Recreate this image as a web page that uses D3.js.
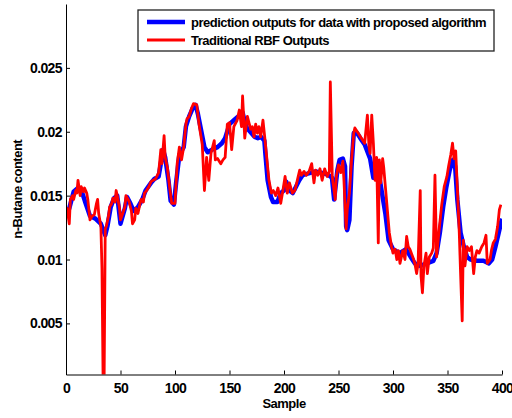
<!DOCTYPE html>
<html>
<head>
<meta charset="utf-8">
<script src="https://cdn.jsdelivr.net/npm/d3@7"></script>
<style>
  body { margin: 0; background: #fff; }
  svg { display: block; }
  text { font-family: "Liberation Sans", Arial, Helvetica, sans-serif; font-weight: bold; }
</style>
</head>
<body>
<svg id="chart"></svg>
<script>
// sample index / value pairs
var predSamples = [0,3,7,11,15,18,22,27,32,36,38,41,44,47,50,54,56,59,62,66,70,73,78,81,85,87,89,91,94,96,99,101,104,108,110,113,116,119,121,124,127,130,134,139,143,146,150,154,158,162,164,166,170,173,176,179,182,183,185,188,190,194,197,200,202,205,208,211,214,217,221,225,229,234,238,241,244,246,249,251,254,256,257,258,260,262,264,267,270,274,279,282,285,288,293,296,300,306,312,317,320,325,331,337,340,343,346,349,352,355,357,359,362,365,368,371,377,383,388,391,394,397,400];
var predValues = [0.0134,0.0140,0.0153,0.0156,0.0152,0.0144,0.0134,0.0132,0.0128,0.0119,0.0126,0.0141,0.0148,0.0150,0.0128,0.0140,0.0149,0.0144,0.0138,0.0141,0.0147,0.0154,0.0160,0.0163,0.0165,0.0175,0.0186,0.0180,0.0162,0.0146,0.0143,0.0160,0.0182,0.0188,0.0204,0.0212,0.0218,0.0221,0.0214,0.0201,0.0188,0.0184,0.0186,0.0188,0.0191,0.0195,0.0206,0.0209,0.0212,0.0215,0.0208,0.0203,0.0199,0.0196,0.0195,0.0196,0.0193,0.0182,0.0162,0.0149,0.0145,0.0145,0.0152,0.0154,0.0161,0.0154,0.0152,0.0157,0.0162,0.0166,0.0167,0.0168,0.0169,0.0168,0.0167,0.0166,0.0164,0.0147,0.0170,0.0178,0.0179,0.0173,0.0126,0.0123,0.0131,0.0173,0.0199,0.0199,0.0195,0.0190,0.0179,0.0164,0.0164,0.0162,0.0136,0.0115,0.0108,0.0105,0.0108,0.0101,0.0097,0.0095,0.0097,0.0099,0.0105,0.0121,0.0141,0.0157,0.0170,0.0178,0.0173,0.0147,0.0121,0.0110,0.0102,0.0100,0.0099,0.0099,0.0097,0.0100,0.0110,0.0121,0.0132];

var rbfSamples = [0,1,3,4,6,7,9,10,11,13,14,16,17,19,20,22,24,26,28,29,30,32,33,34,35,36,37,39,40,42,43,45,46,47,49,50,52,54,55,57,58,60,61,63,64,66,68,69,71,72,74,76,78,80,82,85,87,88,90,91,93,95,97,100,102,104,106,108,110,111,113,115,117,120,122,125,127,129,131,133,136,137,139,142,144,146,148,150,152,154,157,159,161,162,164,166.4,167.9,169.4,171,172.5,174,175.5,177,178.6,180.7,182.3,183.8,186.2,188.4,190.2,192.4,194.5,197,199,201,203,205,207.7,210,212.2,214.4,216,218.4,220.5,223,225.4,227.5,229,231,233,235,237.3,239.7,241.6,242.5,244.3,245,247,248,250,252,254,255,257,258,260,262,264,265,268,271,274,276.5,278,279,280.5,282,283.5,285,286.5,287.5,288.7,290.5,291.5,294,296.6,298.7,300,302,303.5,305,306.4,309,311,312.5,314,315.5,319,320,321.7,323,325,325.7,327,328.4,330.3,331.5,333.3,335.5,337,338.5,340,342.5,344.7,347,349.5,351,353,354.6,356,357.5,359,360.8,362,363.5,364.5,366,368,370,372,374,375.5,377,379,381.4,383.5,385.3,386.5,389,390.5,392,394,396,397.6,399];
var rbfValues = [0.0136,0.0140,0.0128,0.0147,0.0150,0.0147,0.0154,0.0152,0.0162,0.0150,0.0157,0.0153,0.0156,0.0152,0.0147,0.0131,0.0134,0.0135,0.0144,0.0147,0.0136,0.0126,0.0093,0.0008,0.0008,0.0124,0.0126,0.0134,0.0141,0.0144,0.0148,0.0145,0.0154,0.0150,0.0141,0.0131,0.0136,0.0141,0.0150,0.0147,0.0145,0.0138,0.0128,0.0131,0.0140,0.0136,0.0144,0.0147,0.0145,0.0152,0.0154,0.0157,0.0161,0.0162,0.0163,0.0168,0.0186,0.0175,0.0197,0.0180,0.0172,0.0157,0.0144,0.0144,0.0175,0.0188,0.0178,0.0188,0.0206,0.0210,0.0212,0.0218,0.0222,0.0221,0.0206,0.0190,0.0154,0.0180,0.0162,0.0183,0.0193,0.0178,0.0179,0.0175,0.0178,0.0180,0.0206,0.0207,0.0186,0.0204,0.0209,0.0217,0.0204,0.0228,0.0195,0.0212,0.0207,0.0202,0.0204,0.0196,0.0206,0.0199,0.0204,0.0196,0.0209,0.0196,0.0183,0.0162,0.0152,0.0154,0.0150,0.0156,0.0144,0.0154,0.0165,0.0152,0.0160,0.0152,0.0154,0.0162,0.0170,0.0166,0.0169,0.0166,0.0169,0.0175,0.0160,0.0170,0.0166,0.0171,0.0162,0.0171,0.0165,0.0169,0.0239,0.0165,0.0160,0.0147,0.0165,0.0174,0.0168,0.0177,0.0162,0.0124,0.0139,0.0152,0.0178,0.0199,0.0203,0.0199,0.0195,0.0191,0.0213,0.0188,0.0183,0.0213,0.0191,0.0162,0.0180,0.0113,0.0178,0.0160,0.0179,0.0172,0.0147,0.0121,0.0110,0.0105,0.0108,0.0100,0.0107,0.0097,0.0107,0.0100,0.0118,0.0110,0.0108,0.0100,0.0097,0.0089,0.0097,0.0154,0.0087,0.0074,0.0095,0.0105,0.0089,0.0102,0.0105,0.0109,0.0166,0.0102,0.0125,0.0143,0.0157,0.0165,0.0173,0.0182,0.0191,0.0179,0.0185,0.0157,0.0121,0.0089,0.0052,0.0115,0.0095,0.0110,0.0107,0.0110,0.0089,0.0102,0.0107,0.0105,0.0110,0.0113,0.0119,0.0097,0.0100,0.0108,0.0113,0.0116,0.0126,0.0139,0.0143];

var xTicks = [0, 50, 100, 150, 200, 250, 300, 350, 400];
var yTicks = [0.005, 0.01, 0.015, 0.02, 0.025];
var yTickLabels = ["0.005", "0.01", "0.015", "0.02", "0.025"];
var seriesNames = ["prediction outputs for data with proposed algorithm", "Traditional RBF Outputs"];

var width = 512, height = 418;
var plotLeft = 66, plotRight = 502, plotTop = 4, plotBottom = 374.5;

var svg = d3.select("#chart").attr("width", width).attr("height", height);

var x = d3.scaleLinear().domain([0, 400]).range([plotLeft, plotRight]);
var y = d3.scaleLinear().domain([0.001, 0.03]).range([plotBottom, plotTop]);

svg.append("defs").append("clipPath").attr("id", "plotclip")
    .append("rect")
    .attr("x", plotLeft).attr("y", plotTop)
    .attr("width", plotRight - plotLeft).attr("height", plotBottom - plotTop);

var line = d3.line()
    .x(function (d) { return x(d[0]); })
    .y(function (d) { return y(d[1]); });

var pred = d3.zip(predSamples, predValues);
var rbf = d3.zip(rbfSamples, rbfValues);

var plot = svg.append("g").attr("clip-path", "url(#plotclip)");
plot.append("path")
    .datum(pred)
    .attr("d", line)
    .attr("fill", "none")
    .attr("stroke", "#0000ff")
    .attr("stroke-width", 4.5)
    .attr("stroke-linejoin", "round");
plot.append("path")
    .datum(rbf)
    .attr("d", line)
    .attr("fill", "none")
    .attr("stroke", "#ff0000")
    .attr("stroke-width", 2.8)
    .attr("stroke-linejoin", "round");

// axes, MATLAB style inward ticks
var xAxis = d3.axisBottom(x).tickValues(xTicks).tickSizeInner(-4).tickSizeOuter(0).tickPadding(9);
var yAxis = d3.axisLeft(y).tickValues(yTicks)
    .tickFormat(function (d, i) { return yTickLabels[i]; })
    .tickSizeInner(-4).tickSizeOuter(0).tickPadding(4);

var gx = svg.append("g").attr("transform", "translate(0," + plotBottom + ")").call(xAxis);
var gy = svg.append("g").attr("transform", "translate(" + plotLeft + ",0)").call(yAxis);
[gx, gy].forEach(function (g) {
    g.select(".domain").attr("stroke", "#000").attr("stroke-width", 1);
    g.selectAll(".tick line").attr("stroke", "#000");
    g.selectAll(".tick text")
        .attr("fill", "#000")
        .style("font-size", "14px")
        .style("letter-spacing", "-0.6px")
        .style("font-family", "'Liberation Sans', Arial, sans-serif")
        .style("font-weight", "bold");
});

svg.append("text")
    .attr("x", (plotLeft + plotRight) / 2)
    .attr("y", 408)
    .attr("text-anchor", "middle")
    .style("font-size", "13px")
    .style("letter-spacing", "-0.5px")
    .text("Sample");

svg.append("text")
    .attr("transform", "translate(22," + ((plotTop + plotBottom) / 2) + ") rotate(-90)")
    .attr("text-anchor", "middle")
    .style("font-size", "13px")
    .style("letter-spacing", "-0.5px")
    .text("n-Butane content");

// legend
var lg = svg.append("g").attr("transform", "translate(138,10)");
lg.append("rect")
    .attr("width", 356).attr("height", 41)
    .attr("fill", "#fff").attr("stroke", "#222").attr("stroke-width", 1.3);
var colors = ["#0000ff", "#ff0000"];
var widths = [4.5, 2.8];
seriesNames.forEach(function (name, i) {
    var yy = 12 + i * 18;
    lg.append("line")
        .attr("x1", 9).attr("x2", 47)
        .attr("y1", yy).attr("y2", yy)
        .attr("stroke", colors[i]).attr("stroke-width", widths[i]);
    lg.append("text")
        .attr("x", 53).attr("y", yy + 4.5)
        .style("font-size", "13px")
        .style("letter-spacing", "-0.5px")
        .text(name);
});
</script>
</body>
</html>
